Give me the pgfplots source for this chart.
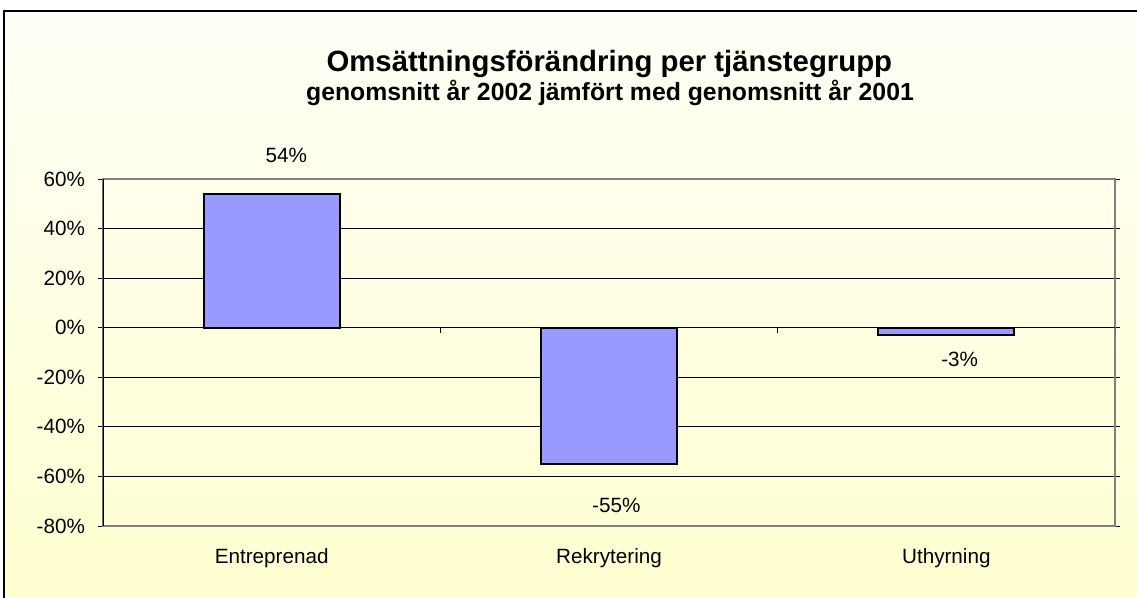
\documentclass[border=0pt]{standalone}
\usepackage{pgfplots}
\pgfplotsset{compat=1.18}
\usepackage{fontspec}
\setmainfont{Liberation Sans}
\definecolor{barblue}{RGB}{153,153,255}
\definecolor{bgtop}{RGB}{255,255,247}
\definecolor{bgbot}{RGB}{255,255,208}
\definecolor{framegray}{RGB}{128,128,128}

\pgfplotstableread{
x  y    off  xoff
0  54   29   11
1  -55  -31  5.5
2  -3   -18.5 10
}\changedata

\begin{document}
\begin{tikzpicture}
\useasboundingbox (0,0) rectangle (852.75pt,448.5pt);
\shade[top color=bgtop, bottom color=bgbot] (3pt,-5pt) rectangle (870pt,440.25pt);
\draw[black, line width=1.4pt] (3pt,-10pt) rectangle (880pt,440.25pt);

\node[font=\bfseries\fontsize{22}{24}\selectfont, anchor=base] at (457pt,394.5pt)
  {Omsättningsförändring per tjänstegrupp};
\node[font=\bfseries\fontsize{18.6}{20}\selectfont, anchor=base] at (457.5pt,373pt)
  {genomsnitt år 2002 jämfört med genomsnitt år 2001};

\begin{axis}[
  at={(77.25pt,54pt)}, anchor=south west,
  scale only axis,
  width=759pt, height=260.25pt,
  xmin=-0.5, xmax=2.5,
  ymin=-80, ymax=60,
  xtick={0,1,2},
  xticklabels={Entreprenad, Rekrytering, Uthyrning},
  x tick style={draw=none},
  xticklabel style={font=\fontsize{15.5}{17}\selectfont, yshift=-9pt},
  ytick={-80,-60,-40,-20,0,20,40,60},
  yticklabels={-80\%,-60\%,-40\%,-20\%,0\%,20\%,40\%,60\%},
  yticklabel style={font=\fontsize{15.5}{17}\selectfont, xshift=-6pt},
  y tick style={black, line width=0.6pt},
  tick align=outside,
  major tick length=4pt,
  ymajorgrids,
  grid style={black, line width=0.6pt},
  axis line style={framegray, line width=1.6pt},
  /pgf/number format/assume math mode=true,
  ybar, bar width=102pt,
  nodes near coords={\pgfmathprintnumber{\pgfplotspointmeta}\%},
  nodes near coords style={font=\fontsize{15.5}{17}\selectfont, anchor=center,
    yshift=\off pt, xshift=\xoff pt},
  point meta=y,
]
\addplot[fill=barblue, draw=black, line width=1.5pt,
  visualization depends on={\thisrow{off}\as\off},
  visualization depends on={\thisrow{xoff}\as\xoff}]
  table[x=x, y=y] {\changedata};
\draw[black, line width=0.9pt] (rel axis cs:0,0) -- (rel axis cs:0,1);
\draw[black, line width=0.9pt] (axis cs:-0.5,0) -- (axis cs:2.5,0);
\draw[black, line width=0.6pt] (axis cs:0.5,0) -- ([yshift=-4pt]axis cs:0.5,0);
\draw[black, line width=0.6pt] (axis cs:1.5,0) -- ([yshift=-4pt]axis cs:1.5,0);
\draw[black, line width=0.6pt] (axis cs:2.5,0) -- ([yshift=-4pt]axis cs:2.5,0);
\end{axis}
\end{tikzpicture}
\end{document}
